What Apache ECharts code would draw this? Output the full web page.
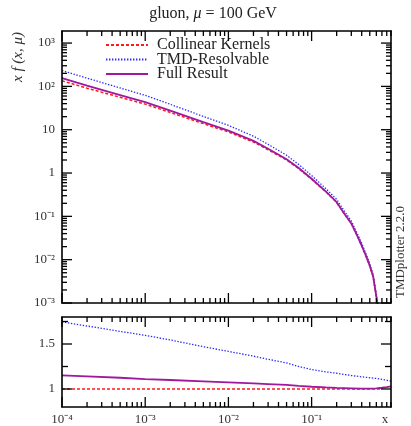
<!DOCTYPE html>
<html><head><meta charset="utf-8">
<script src="https://cdn.jsdelivr.net/npm/echarts@6/dist/echarts.min.js"></script>
<style>html,body{margin:0;padding:0;background:#fff}#c{width:411px;height:426px}</style>
</head><body><div id="c"></div>
<script>
// ---- data ----
const xTop = [1e-4, 2e-4, 5e-4, 1e-3, 2e-3, 5e-3, 0.01, 0.02, 0.03, 0.05, 0.07, 0.1, 0.15, 0.2, 0.25, 0.3, 0.35, 0.4, 0.45, 0.5, 0.55, 0.6, 0.63, 0.66];
const collinear = [135, 91, 56, 39, 25, 13.8, 8.9, 5.2, 3.45, 2.0, 1.26, 0.72, 0.36, 0.21, 0.111, 0.068, 0.037, 0.021, 0.0122, 0.0072, 0.004, 0.0014, 0.00076, 0.0003];
const tmdResolvable = [232, 155, 92, 62, 38.6, 20.3, 12.6, 7.1, 4.59, 2.58, 1.575, 0.876, 0.428, 0.247, 0.129, 0.078, 0.042, 0.0238, 0.0138, 0.0081, 0.0045, 0.00156, 0.00085, 0.00033];
const fullResult = [155, 104, 63, 43.3, 27.5, 15.0, 9.56, 5.52, 3.64, 2.09, 1.304, 0.738, 0.366, 0.2125, 0.112, 0.0685, 0.0372, 0.0211, 0.01226, 0.00724, 0.00402, 0.00141, 0.000767, 0.000303];

const xRatio = [1e-4, 2e-4, 5e-4, 1e-3, 2e-3, 5e-3, 0.01, 0.02, 0.03, 0.05, 0.07, 0.1, 0.15, 0.2, 0.3, 0.4, 0.5, 0.6, 0.7, 0.8, 0.9];
const ratioCollinear = [1, 1, 1, 1, 1, 1, 1, 1, 1, 1, 1, 1, 1, 1, 1, 1, 1, 1, 1, null, null];
const ratioTMD = [1.745, 1.70, 1.64, 1.596, 1.545, 1.47, 1.418, 1.365, 1.33, 1.29, 1.25, 1.216, 1.19, 1.175, 1.15, 1.135, 1.125, 1.117, 1.108, 1.097, 1.088];
const ratioFull = [1.152, 1.14, 1.125, 1.11, 1.10, 1.085, 1.074, 1.062, 1.055, 1.045, 1.035, 1.025, 1.017, 1.012, 1.008, 1.005, 1.005, 1.008, 1.014, 1.022, 1.03];

const seriesNames = ['Collinear Kernels', 'TMD-Resolvable', 'Full Result'];

// ---- ticks & labels ----
const xMajor = [1e-4, 1e-3, 1e-2, 1e-1];
const xLabels = ['10⁻⁴', '10⁻³', '10⁻²', '10⁻¹'];
const yMajor = [1e-3, 1e-2, 1e-1, 1, 10, 100, 1000];
const yLabels = ['10⁻³', '10⁻²', '10⁻¹', '1', '10', '10²', '10³'];
const rMajor = [1, 1.5];
const rLabels = ['1', '1.5'];
const rMinor = [1.25, 1.75];
const minorMult = [2, 3, 4, 5, 6, 7, 8, 9];

const X_MIN = 1e-4, X_MAX = 0.9, Y_MIN = 1e-3, Y_MAX = 1900, R_MIN = 0.8, R_MAX = 1.8;
function minorsOf(decades, lo, hi) {
  const out = [];
  decades.forEach(d => minorMult.forEach(m => { const v = d * m; if (v >= lo && v <= hi) out.push(v); }));
  return out;
}
const xMinor = minorsOf(xMajor, X_MIN, X_MAX);
const yMinor = minorsOf(yMajor, Y_MIN, Y_MAX);

const FONT = 'Liberation Serif';
const MAJ = 10, MIN = 5;

function lookup(vals, labels) {
  return function (v) {
    for (let i = 0; i < vals.length; i++) if (Math.abs(v - vals[i]) <= Math.abs(vals[i]) * 1e-6) return labels[i];
    return '';
  };
}
function ax(type, grid, pos, min, max, labelVals, labels) {
  const a = {
    type: type, gridIndex: grid, position: pos, min: min, max: max,
    axisLine: { show: true, onZero: false, lineStyle: { color: '#000', width: 1.6 } },
    axisTick: { show: false },
    axisLabel: { show: false },
    splitLine: { show: false }, minorTick: { show: false }, minorSplitLine: { show: false },
    z: 5
  };
  if (type === 'log') a.logBase = 10;
  if (labelVals) {
    a.axisLabel = { show: true, customValues: labelVals, formatter: lookup(labelVals, labels),
      fontFamily: FONT, fontSize: 13, color: '#333', margin: 7 };
  }
  return a;
}

const xAxes = [
  ax('log', 0, 'bottom', X_MIN, X_MAX),
  ax('log', 0, 'top', X_MIN, X_MAX),
  ax('log', 1, 'bottom', X_MIN, X_MAX, xMajor, xLabels),
  ax('log', 1, 'top', X_MIN, X_MAX)
];
xAxes[2].axisLabel.margin = 6;
const yAxes = [
  ax('log', 0, 'left', Y_MIN, Y_MAX, yMajor, yLabels),
  ax('log', 0, 'right', Y_MIN, Y_MAX),
  ax('value', 1, 'left', R_MIN, R_MAX, rMajor, rLabels),
  ax('value', 1, 'right', R_MIN, R_MAX)
];

// tick marks on all four sides of a panel, placed through the axis scales
function tickSeries(xi, yi, xLo, xHi, yLo, yHi, xTicks, yTicks) {
  return {
    type: 'custom', xAxisIndex: xi, yAxisIndex: yi, silent: true, z: 6,
    data: [[xLo, yLo]], encode: { x: 0, y: 1 },
    renderItem: function (params, api) {
      const ch = [];
      const seg = (x1, y1, x2, y2) => ch.push({ type: 'line', shape: { x1: x1, y1: y1, x2: x2, y2: y2 },
        style: { stroke: '#000', lineWidth: 1.3 } });
      xTicks.forEach(t => {
        const b = api.coord([t[0], yLo]), u = api.coord([t[0], yHi]);
        seg(b[0], b[1], b[0], b[1] - t[1]);
        seg(u[0], u[1], u[0], u[1] + t[1]);
      });
      yTicks.forEach(t => {
        const l = api.coord([xLo, t[0]]), r = api.coord([xHi, t[0]]);
        seg(l[0], l[1], l[0] + t[1], l[1]);
        seg(r[0], r[1], r[0] - t[1], r[1]);
      });
      return { type: 'group', children: ch };
    }
  };
}
const xTickList = xMajor.map(v => [v, MAJ]).concat(xMinor.map(v => [v, MIN]));
const yTickList = yMajor.map(v => [v, MAJ]).concat(yMinor.map(v => [v, MIN]));
const rTickList = rMajor.map(v => [v, MAJ]).concat(rMinor.map(v => [v, 6]));

const styles = [
  { color: '#ff1a1a', width: 1.5, type: [3, 2] },
  { color: '#2a2aff', width: 1.3, type: [1.4, 1.6] },
  { color: '#a0189e', width: 1.8, type: 'solid' }
];
function mk(name, xs, ys, xi, yi, st) {
  return {
    type: 'line', name: name, xAxisIndex: xi, yAxisIndex: yi,
    data: xs.map((x, i) => [x, ys[i]]),
    showSymbol: false, symbol: 'none', smooth: false, clip: true, connectNulls: false,
    lineStyle: st, itemStyle: { color: st.color }, z: 3
  };
}
const series = [
  mk(seriesNames[0], xTop, collinear, 0, 0, styles[0]),
  mk(seriesNames[1], xTop, tmdResolvable, 0, 0, styles[1]),
  mk(seriesNames[2], xTop, fullResult, 0, 0, styles[2]),
  mk(seriesNames[0], xRatio, ratioCollinear, 2, 2, styles[0]),
  mk(seriesNames[1], xRatio, ratioTMD, 2, 2, styles[1]),
  mk(seriesNames[2], xRatio, ratioFull, 2, 2, styles[2]),
  tickSeries(0, 0, X_MIN, X_MAX, Y_MIN, Y_MAX, xTickList, yTickList),
  tickSeries(2, 2, X_MIN, X_MAX, R_MIN, R_MAX, xTickList, rTickList)
];

const chart = echarts.init(document.getElementById('c'), null, { renderer: 'canvas' });
chart.setOption({
  animation: false,
  backgroundColor: '#fff',
  grid: [
    { left: 62, right: 20, top: 31, height: 272 },
    { left: 62, right: 20, top: 317, height: 92 }
  ],
  xAxis: xAxes,
  yAxis: yAxes,
  legend: {
    orient: 'vertical', left: 105, top: 37, padding: 0, itemWidth: 42, itemHeight: 12, itemGap: -1.5,
    data: seriesNames,
    itemStyle: { opacity: 0 },
    textStyle: { fontFamily: FONT, fontSize: 16, color: '#222', padding: [0, 0, 0, 4] }
  },
  graphic: [
    { type: 'text', x: 213, y: 14, style: { text: '{a|gluon, }{i|μ}{a| = 100 GeV}', align: 'center', verticalAlign: 'middle',
      rich: { a: { fontFamily: FONT, fontSize: 16, fill: '#222' }, i: { fontFamily: FONT, fontStyle: 'italic', fontSize: 16, fill: '#222' } } } },
    { type: 'text', x: 18, y: 57, rotation: Math.PI / 2, style: { text: 'x f (x, μ)', align: 'center', verticalAlign: 'middle',
      fontFamily: FONT, fontStyle: 'italic', fontSize: 15, fill: '#333' } },
    { type: 'text', x: 385, y: 420, style: { text: 'x', align: 'center', verticalAlign: 'middle', fontFamily: FONT, fontSize: 13, fill: '#333' } },
    { type: 'text', x: 401, y: 252, rotation: Math.PI / 2, style: { text: 'TMDplotter 2.2.0', align: 'center', verticalAlign: 'middle',
      fontFamily: FONT, fontSize: 13, fill: '#333' } }
  ],
  series: series
});
</script></body></html>
